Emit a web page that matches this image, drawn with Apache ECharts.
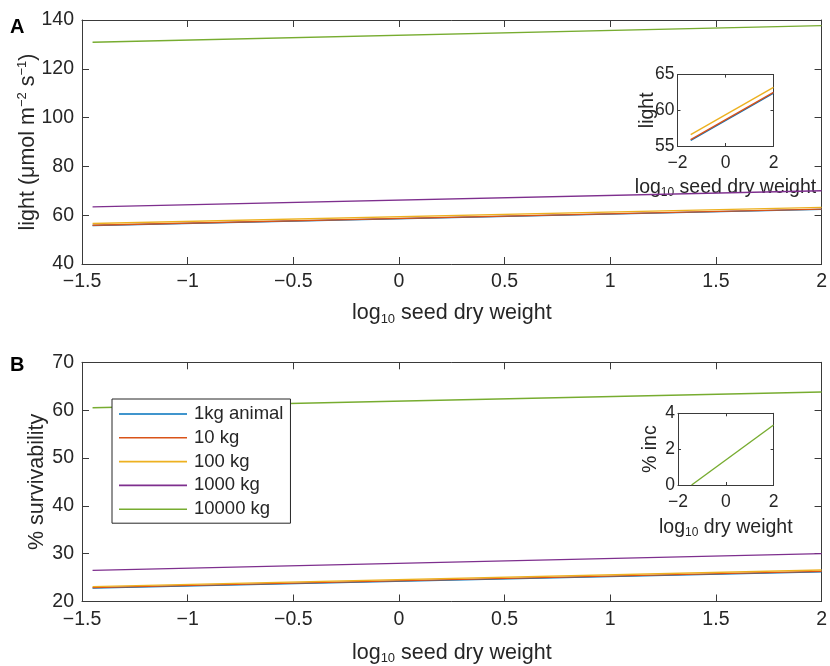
<!DOCTYPE html>
<html>
<head>
<meta charset="utf-8">
<script src="https://cdn.jsdelivr.net/npm/echarts@6/dist/echarts.min.js"></script>
<style>
html,body{margin:0;padding:0;background:#fff}
#main{width:830px;height:666px}
</style>
</head>
<body>
<div id="main"></div>
<script>
// data (straight lines, end points)
var seedX = [-1.45, 2];
var lightBlue = [55.8, 62.4];
var lightRed = [55.9, 62.5];
var lightYellow = [56.6, 63.2];
var lightPurple = [63.4, 70.0];
var lightGreen = [130.9, 137.7];

var survBlue = [22.8, 26.2];
var survRed = [22.9, 26.3];
var survYellow = [23.1, 26.6];
var survPurple = [26.5, 30.0];
var survGreen = [60.5, 63.8];

var incX = [-1.43, 2];
var incGreen = [0, 3.35];

var names = ['1kg animal', '10 kg', '100 kg', '1000 kg', '10000 kg'];
var colors = ['#0072BD', '#D95319', '#EDB120', '#7E2F8E', '#77AC30'];

var FONT = "'Liberation Sans', Arial, sans-serif";
var INK = '#262626';
var AX = '#3a3a3a';

function pairs(xs, ys){
	var out = [];
	for(var i=0;i<xs.length;i++){
		out.push([xs[i], ys[i]]);
	}
	return out;
}
function fmt(v){
	return String(v).replace('-', '\u2212');
}
function richName(size, sub){
	return {
		t:{fontSize:size, fontFamily:FONT, color:INK, lineHeight:size+3},
		s:{fontSize:Math.round(size*0.62), fontFamily:FONT, color:INK, lineHeight:Math.round(size*0.62), verticalAlign:sub}
	};
}
// one visible axis + one mirror axis for the box ticks
function xPair(grid, min, max, interval, fs, tick, name, nameSize, gap){
	return [{
		type:'value', gridIndex:grid, min:min, max:max, interval:interval, position:'bottom',
		axisLine:{show:true, onZero:false, lineStyle:{color:AX, width:1}},
		axisTick:{show:true, inside:true, length:tick, lineStyle:{color:AX}},
		axisLabel:{show:true, fontSize:fs, fontFamily:FONT, color:INK, margin:8, formatter:fmt},
		splitLine:{show:false},
		name:name, nameLocation:'middle', nameGap:gap, nameMoveOverlap:false,
		nameTextStyle:{rich:richName(nameSize, 'bottom')}
	},{
		type:'value', gridIndex:grid, min:min, max:max, interval:interval, position:'top',
		axisLine:{show:true, onZero:false, lineStyle:{color:AX, width:1}},
		axisTick:{show:true, inside:true, length:tick, lineStyle:{color:AX}},
		axisLabel:{show:false}, splitLine:{show:false}
	}];
}
function yPair(grid, min, max, interval, fs, tick, name, nameSize, gap, margin){
	return [{
		type:'value', gridIndex:grid, min:min, max:max, interval:interval, position:'left',
		axisLine:{show:true, onZero:false, lineStyle:{color:AX, width:1}},
		axisTick:{show:true, inside:true, length:tick, lineStyle:{color:AX}},
		axisLabel:{show:true, fontSize:fs, fontFamily:FONT, color:INK, margin:margin, formatter:fmt},
		splitLine:{show:false},
		name:name, nameLocation:'middle', nameGap:gap, nameMoveOverlap:false,
		nameTextStyle:{rich:richName(nameSize, 'top')}
	},{
		type:'value', gridIndex:grid, min:min, max:max, interval:interval, position:'right',
		axisLine:{show:true, onZero:false, lineStyle:{color:AX, width:1}},
		axisTick:{show:true, inside:true, length:tick, lineStyle:{color:AX}},
		axisLabel:{show:false}, splitLine:{show:false}
	}];
}
function line(name, color, xs, ys, xi, yi, z){
	return {
		name:name, type:'line', xAxisIndex:xi, yAxisIndex:yi,
		data:pairs(xs, ys), symbol:'none', silent:true, z:z,
		lineStyle:{color:color, width:1.4}, itemStyle:{color:color}
	};
}

var myChart = echarts.init(document.getElementById('main'), null, {renderer:'canvas'});

var xAxes = [].concat(
	xPair(0, -1.5, 2, 0.5, 19.5, 7, '{t|log}{s|10}{t| seed dry weight}', 21.5, 37),
	xPair(1, -2, 2, 2, 17.5, 3, '{t|log}{s|10}{t| seed dry weight}', 19.5, 30),
	xPair(2, -1.5, 2, 0.5, 19.5, 7, '{t|log}{s|10}{t| seed dry weight}', 21.5, 39),
	xPair(3, -2, 2, 2, 17.5, 3, '{t|log}{s|10}{t| dry weight}', 19.5, 31)
);
var yAxes = [].concat(
	yPair(0, 40, 140, 20, 19.5, 7, '{t|light (\u03bcmol m}{s|\u22122}{t| s}{s|\u22121}{t|)}', 21.5, 42, 8),
	yPair(1, 55, 65, 5, 17.5, 3, '{t|light}', 19.5, 19, 3),
	yPair(2, 20, 70, 10, 19.5, 7, '{t|% survivability}', 21.5, 33, 8),
	yPair(3, 0, 4, 2, 17.5, 3, '{t|% inc}', 19.5, 16, 3)
);

var lightData = [lightBlue, lightRed, lightYellow, lightPurple, lightGreen];
var survData = [survBlue, survRed, survYellow, survPurple, survGreen];
var series = [];
for(var i=0;i<names.length;i++){
	series.push(line(names[i], colors[i], seedX, lightData[i], 0, 0, 2));
}
for(var i=0;i<3;i++){
	series.push(line(names[i], colors[i], seedX, lightData[i], 2, 2, 5));
}
for(var i=0;i<names.length;i++){
	series.push(line(names[i], colors[i], seedX, survData[i], 4, 4, 2));
}
series.push(line(names[4], colors[4], incX, incGreen, 6, 6, 5));

var option = {
	animation:false,
	backgroundColor:'#fff',
	textStyle:{fontFamily:FONT},
	grid:[
		{left:82, top:20, width:744.7, height:244, containLabel:false},
		{left:677.5, top:74.6, width:96, height:71.4, containLabel:false},
		{left:82, top:362.3, width:744.7, height:243.7, containLabel:false},
		{left:678, top:413.3, width:95.6, height:71.7, containLabel:false}
	],
	xAxis:xAxes,
	yAxis:yAxes,
	legend:{
		data:names, orient:'vertical', left:112, top:399,
		padding:[5,7,4,7], itemGap:3.8, itemWidth:68, itemHeight:1.6, icon:'rect',
		backgroundColor:'#fff', borderColor:INK, borderWidth:1,
		textStyle:{fontSize:18.5, fontFamily:FONT, color:INK, lineHeight:20, padding:[0,0,0,2]},
		selectedMode:false, z:10
	},
	graphic:[
		{type:'text', left:10, top:17, style:{text:'A', fontSize:20, fontWeight:'bold', fontFamily:FONT, fill:'#000'}},
		{type:'text', left:10, top:355, style:{text:'B', fontSize:20, fontWeight:'bold', fontFamily:FONT, fill:'#000'}}
	],
	series:series
};
myChart.setOption(option);
</script>
</body>
</html>
